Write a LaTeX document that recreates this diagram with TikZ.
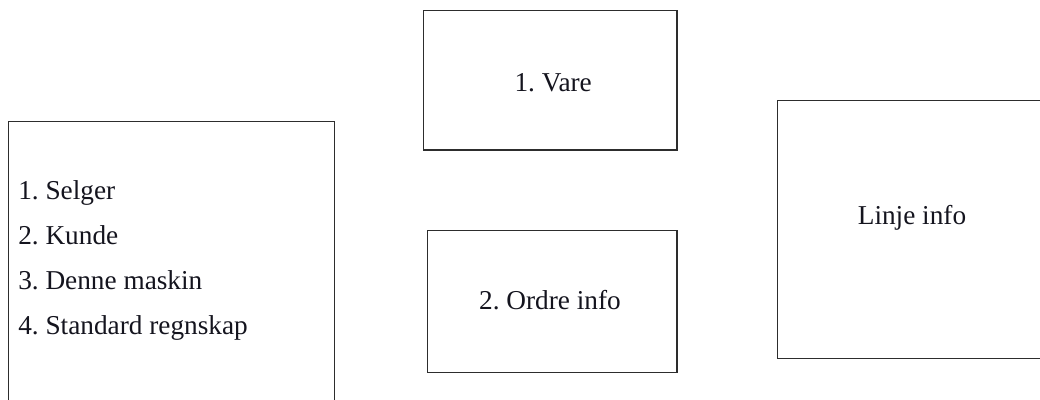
\documentclass[tikz,border=0pt]{standalone}
\usepackage{fontspec}
\setmainfont{Liberation Serif}
\usepackage{tikz}
\usetikzlibrary{positioning}
\usepackage{xcolor}
\definecolor{boxline}{RGB}{45,45,45}
\definecolor{textdark}{RGB}{20,20,30}
\frenchspacing

\begin{document}
\begin{tikzpicture}[
    box/.style={draw=boxline, line width=0.9pt, rectangle, inner sep=0pt},
    txt/.style={textdark, font=\fontsize{19.4}{23}\selectfont, anchor=base, inner sep=0pt}]
        % Frame of the page
        \useasboundingbox (0,0) rectangle (26,-10);
        \clip (0,0) rectangle (26,-10);

        % Left box with list (runs below the page)
        \node[box, minimum width=8.15cm, minimum height=7.5cm, anchor=north west]
          (meny) at (0.2,-3.025) {};
        \foreach \i/\t/\y in {1/Selger/-5.0, 2/Kunde/-6.125,
                              3/Denne maskin/-7.25, 4/Standard regnskap/-8.375}{
          \node[txt, anchor=base west] (item\i) at (0.45,\y) {\i. \t};
        }

        % Vare (top middle)
        \node[box, minimum width=6.33cm, minimum height=3.48cm] (vare) at (13.76,-2.01) {};
        \node[txt] (varetxt) at (13.83,-2.3) {1. Vare};

        % Ordre info (bottom middle)
        \node[box, minimum width=6.23cm, minimum height=3.55cm] (ordre) at (13.81,-7.53) {};
        \node[txt] (ordretxt) at (13.75,-7.75) {2. Ordre info};

        % Linje info (right, runs past the edge)
        \node[box, minimum width=6.8cm, minimum height=6.45cm, anchor=north west]
          (linje) at (19.43,-2.5) {};
        \node[txt] (linjetxt) at (22.8,-5.625) {Linje info};
      \end{tikzpicture}
\end{document}
